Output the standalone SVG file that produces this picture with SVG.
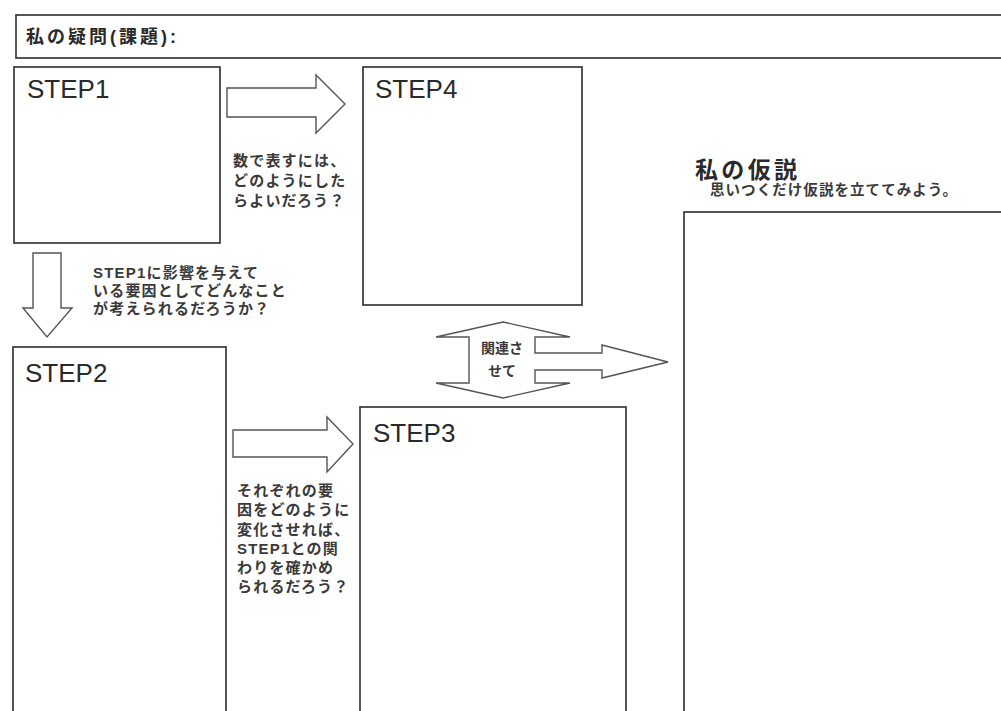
<svg xmlns="http://www.w3.org/2000/svg" width="1001" height="711" viewBox="0 0 1001 711">
<style>
.box{fill:none;stroke:#2b2b2b;stroke-width:1.6}
.arr{fill:#fff;stroke:#555;stroke-width:1.4;stroke-linejoin:miter}
.step{font-family:"Liberation Sans","Noto Sans CJK JP",sans-serif;font-size:26px;fill:#2a2a2a}
.t{font-family:"Liberation Sans","Noto Sans CJK JP",sans-serif;font-size:15px;fill:#3a3a3a;font-weight:bold;letter-spacing:1.2px}
.title{font-family:"Liberation Sans","Noto Sans CJK JP",sans-serif;font-size:18px;fill:#2a2a2a;font-weight:bold}
.h{font-family:"Liberation Sans","Noto Sans CJK JP",sans-serif;font-size:23px;fill:#2a2a2a;font-weight:bold}
</style>
<rect width="1001" height="711" fill="#fff"/>
<g id="question">
<rect class="box" x="16" y="15" width="1000" height="43"/>
<text class="title" x="26" y="43" textLength="150" lengthAdjust="spacing">私の疑問(課題):</text>
</g>
<g id="step1">
<rect class="box" x="14" y="67" width="206" height="176"/>
<text class="step" x="27" y="98">STEP1</text>
</g>
<g id="step4">
<rect class="box" x="363" y="67" width="219" height="238"/>
<text class="step" x="375" y="98">STEP4</text>
</g>
<g id="step2">
<rect class="box" x="13" y="347" width="213" height="400"/>
<text class="step" x="25" y="382">STEP2</text>
</g>
<g id="step3">
<rect class="box" x="360" y="407" width="266" height="340"/>
<text class="step" x="373" y="442">STEP3</text>
</g>
<g id="hypothesis">
<text class="h" x="695" y="178" textLength="102" lengthAdjust="spacing">私の仮説</text>
<text class="t" x="710" y="195" textLength="247" lengthAdjust="spacing" style="font-size:14.5px;letter-spacing:0">思いつくだけ仮説を立ててみよう。</text>
<rect class="box" x="684" y="212" width="400" height="540"/>
</g>
<g id="connectors">
<path class="arr" d="M227 88 L316 88 L316 75 L345 104 L316 133 L316 117 L227 117 Z"/>
<path class="arr" d="M33 253 L61 253 L61 308 L72 308 L47 337 L23 308 L33 308 Z"/>
<path class="arr" d="M233 430 L327 430 L327 417 L353 444 L327 472 L327 457 L233 457 Z"/>
<path class="arr" d="M503 322 L570 337 L535 337 L535 353 L602 353 L602 345 L668 362 L602 378 L602 370 L535 370 L535 383 L570 383 L503 398 L436 383 L469 383 L469 337 L436 337 Z"/>
</g>
<g id="labels">
<text class="t" x="233" y="166">数で表すには、</text>
<text class="t" x="233" y="186">どのようにした</text>
<text class="t" x="233" y="206">らよいだろう？</text>
<text class="t" x="93" y="278">STEP1に影響を与えて</text>
<text class="t" x="93" y="296">いる要因としてどんなこと</text>
<text class="t" x="93" y="314">が考えられるだろうか？</text>
<text class="t" x="237" y="496">それぞれの要</text>
<text class="t" x="237" y="515">因をどのように</text>
<text class="t" x="237" y="535">変化させれば、</text>
<text class="t" x="237" y="554">STEP1との関</text>
<text class="t" x="237" y="573">わりを確かめ</text>
<text class="t" x="237" y="592">られるだろう？</text>
<text class="t" x="502" y="353" text-anchor="middle" style="font-size:14px;letter-spacing:0">関連さ</text>
<text class="t" x="502" y="376" text-anchor="middle" style="font-size:14px;letter-spacing:0">せて</text>
</g>
</svg>
